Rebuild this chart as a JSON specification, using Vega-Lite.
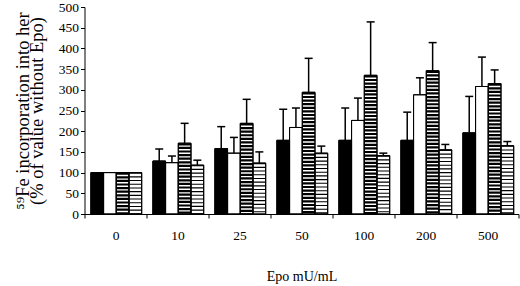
{
  "$schema": "https://vega.github.io/schema/vega-lite/v6.json",
  "width": 434,
  "height": 207,
  "autosize": {"type": "none"},
  "padding": {"left": 84.5, "top": 7, "right": 1.5, "bottom": 72},
  "background": "white",
  "config": {
    "view": {"stroke": null},
    "font": "Liberation Serif",
    "axis": {
      "domainColor": "black",
      "tickColor": "black",
      "labelColor": "black",
      "titleColor": "black",
      "titleFontWeight": "normal",
      "labelFont": "Liberation Serif",
      "titleFont": "Liberation Serif",
      "labelOverlap": false,
      "grid": false
    }
  },
  "data": {
    "values": [
      {"dose": "0", "series": "A", "value": 100, "upper": 100},
      {"dose": "0", "series": "B", "value": 100, "upper": 100},
      {"dose": "0", "series": "C", "value": 100, "upper": 100},
      {"dose": "0", "series": "D", "value": 100, "upper": 100},
      {"dose": "10", "series": "A", "value": 128, "upper": 157},
      {"dose": "10", "series": "B", "value": 124, "upper": 140},
      {"dose": "10", "series": "C", "value": 171, "upper": 219},
      {"dose": "10", "series": "D", "value": 118, "upper": 130},
      {"dose": "25", "series": "A", "value": 158, "upper": 211},
      {"dose": "25", "series": "B", "value": 147, "upper": 185},
      {"dose": "25", "series": "C", "value": 219, "upper": 277},
      {"dose": "25", "series": "D", "value": 123, "upper": 150},
      {"dose": "50", "series": "A", "value": 178, "upper": 253},
      {"dose": "50", "series": "B", "value": 209, "upper": 256},
      {"dose": "50", "series": "C", "value": 294, "upper": 376},
      {"dose": "50", "series": "D", "value": 147, "upper": 164},
      {"dose": "100", "series": "A", "value": 178, "upper": 256},
      {"dose": "100", "series": "B", "value": 226, "upper": 280},
      {"dose": "100", "series": "C", "value": 335, "upper": 464},
      {"dose": "100", "series": "D", "value": 141, "upper": 147},
      {"dose": "200", "series": "A", "value": 178, "upper": 246},
      {"dose": "200", "series": "B", "value": 288, "upper": 329},
      {"dose": "200", "series": "C", "value": 346, "upper": 414},
      {"dose": "200", "series": "D", "value": 155, "upper": 168},
      {"dose": "500", "series": "A", "value": 196, "upper": 284},
      {"dose": "500", "series": "B", "value": 308, "upper": 379},
      {"dose": "500", "series": "C", "value": 315, "upper": 348},
      {"dose": "500", "series": "D", "value": 165, "upper": 175}
    ]
  },
  "encoding": {
    "x": {
      "field": "dose",
      "type": "nominal",
      "sort": null,
      "scale": {"paddingInner": 0, "paddingOuter": 0},
      "axis": {
        "title": "Epo mU/mL",
        "labelAngle": 0,
        "labelFont": "Liberation Serif",
        "titleFont": "Liberation Serif",
        "labelFontSize": 13.5,
        "labelPadding": 10,
        "tickBand": "extent",
        "tickSize": 4,
        "titleFontSize": 14,
        "titlePadding": 28
      }
    },
    "xOffset": {
      "field": "series",
      "type": "nominal",
      "sort": null,
      "scale": {"paddingOuter": 0.44, "paddingInner": 0, "align": 0.57}
    },
    "y": {
      "field": "value",
      "type": "quantitative",
      "scale": {"domain": [0, 500], "nice": false},
      "axis": {
        "title": ["⁵⁹Fe incorporation into her", "(% of value without Epo)"],
        "values": [0, 50, 100, 150, 200, 250, 300, 350, 400, 450, 500],
        "labelFont": "Liberation Serif",
        "titleFont": "Liberation Serif",
        "labelFontSize": 13.5,
        "labelPadding": 2,
        "labelOverlap": false,
        "tickSize": 4,
        "titleFontSize": 18.5,
        "titleLineHeight": 14,
        "titlePadding": 12
      }
    }
  },
  "layer": [
    {
      "mark": {"type": "bar", "stroke": "black", "strokeWidth": 1},
      "encoding": {
        "fill": {
          "field": "series",
          "type": "nominal",
          "scale": {"domain": ["A", "B", "C", "D"], "range": ["black", "white", "white", "white"]},
          "legend": null
        }
      }
    },
    {
      "transform": [{"filter": "datum.series == 'C' || datum.series == 'D'"}],
      "mark": {"type": "rule", "strokeWidth": 12.7, "color": "black"},
      "encoding": {
        "y2": {"datum": 0},
        "strokeDash": {
          "field": "series",
          "type": "nominal",
          "scale": {"domain": ["C", "D"], "range": [[2.2, 1.4], [1.1, 2.6]]},
          "legend": null
        }
      }
    },
    {
      "mark": {"type": "bar", "fillOpacity": 0, "stroke": "black", "strokeWidth": 1},
      "encoding": {}
    },
    {
      "transform": [{"filter": "datum.upper > datum.value"}],
      "mark": {"type": "rule", "color": "black", "strokeWidth": 1.5},
      "encoding": {
        "y2": {"field": "upper"}
      }
    },
    {
      "transform": [{"filter": "datum.upper > datum.value"}],
      "mark": {"type": "tick", "color": "black", "size": 8, "thickness": 1.5, "opacity": 1},
      "encoding": {
        "y": {
          "field": "upper",
          "type": "quantitative",
          "axis": {
            "title": ["⁵⁹Fe incorporation into her", "(% of value without Epo)"],
            "values": [0, 50, 100, 150, 200, 250, 300, 350, 400, 450, 500],
            "labelFont": "Liberation Serif",
            "titleFont": "Liberation Serif",
            "labelFontSize": 13.5,
            "labelPadding": 2,
            "labelOverlap": false,
            "tickSize": 4,
            "titleFontSize": 18.5,
            "titleLineHeight": 14,
            "titlePadding": 12
          }
        }
      }
    }
  ]
}
